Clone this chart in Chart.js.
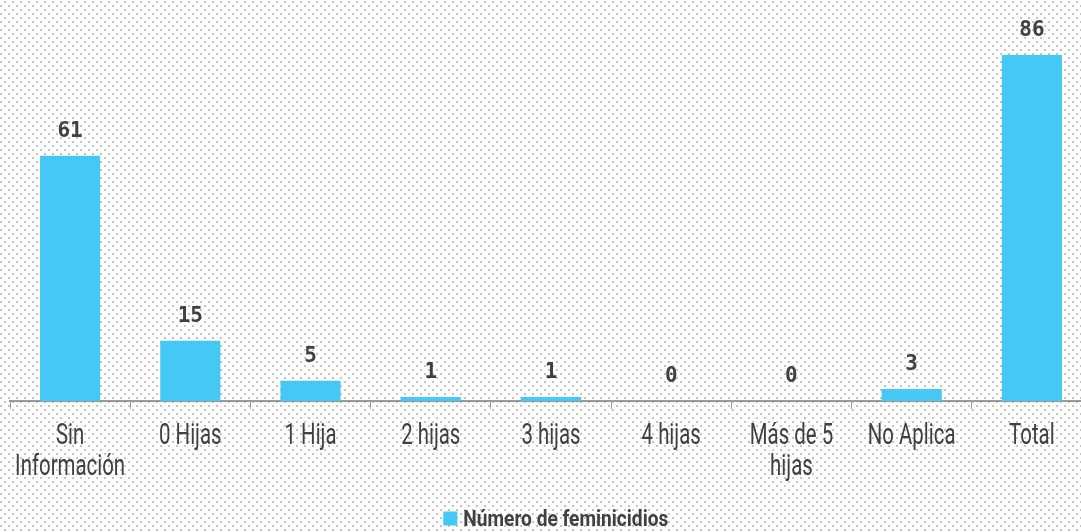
<!DOCTYPE html>
<html>
<head>
<meta charset="utf-8">
<script src="https://cdn.jsdelivr.net/npm/chart.js@4.4.1/dist/chart.umd.min.js"></script>
<style>
    html, body { margin: 0; padding: 0; overflow: hidden; background: #fff; }
    #wrap { width: 1114px; height: 532px; }
</style>
</head>
<body>
<div id="wrap"><canvas id="chart-hijas"></canvas></div>
<script>
const categorias = [
    ["Sin", "Información"],
    "0 Hijas",
    "1 Hija",
    "2 hijas",
    "3 hijas",
    "4 hijas",
    ["Más de 5", "hijas"],
    "No Aplica",
    "Total"
];
const feminicidios = [61, 15, 5, 1, 1, 0, 0, 3, 86];
const nombreSerie = "Número de feminicidios";

const colorBarra = "#44c8f5";
const colorTexto = "#404040";

// fuentes condensadas: no hay ninguna instalada, se estira en horizontal
const fuenteTicks = "30px Roboto, sans-serif";
const fuenteLeyenda = "bold 22px Roboto, sans-serif";
const medidor = document.createElement("canvas").getContext("2d");
medidor.font = fuenteTicks;
const escalaTicks = 110 / medidor.measureText("Información").width;
medidor.font = fuenteLeyenda;
const escalaLeyenda = 205 / medidor.measureText(nombreSerie).width;
medidor.font = "bold 20px 'Liberation Sans', sans-serif";
const tamLeyendaChart = 20 * 193 / medidor.measureText(nombreSerie).width;

// fondo punteado
const fondoPunteado = {
    id: "fondoPunteado",
    beforeDraw(chart) {
        const tile = document.createElement("canvas");
        tile.width = 8;
        tile.height = 8;
        const t = tile.getContext("2d");
        t.fillStyle = "#c4c4c4";
        t.fillRect(4, 1, 2, 2);
        t.fillRect(0, 5, 2, 2);
        const ctx = chart.ctx;
        ctx.save();
        ctx.fillStyle = "#ffffff";
        ctx.fillRect(0, 0, chart.width, chart.height);
        ctx.fillStyle = ctx.createPattern(tile, "repeat");
        ctx.fillRect(0, 0, chart.width, chart.height);
        ctx.restore();
    }
};

// valores encima de las barras
const valoresBarras = {
    id: "valoresBarras",
    afterDatasetsDraw(chart) {
        const ctx = chart.ctx;
        const meta = chart.getDatasetMeta(0);
        ctx.save();
        ctx.font = "bold 21px 'DejaVu Sans Mono', monospace";
        ctx.fillStyle = colorTexto;
        ctx.textAlign = "center";
        ctx.textBaseline = "alphabetic";
        meta.data.forEach(function (bar, i) {
            ctx.fillText(feminicidios[i], bar.x, bar.y - 19);
        });
        ctx.restore();
    }
};

// etiquetas del eje x y texto de la leyenda con letra estrecha
const textoEstrecho = {
    id: "textoEstrecho",
    afterDraw(chart) {
        const ctx = chart.ctx;
        const escalaX = chart.scales.x;
        ctx.save();
        ctx.fillStyle = colorTexto;
        ctx.textAlign = "center";
        ctx.textBaseline = "alphabetic";
        ctx.font = fuenteTicks;
        escalaX.ticks.forEach(function (tick, i) {
            const x = escalaX.getPixelForTick(i);
            const lineas = [].concat(categorias[i]);
            lineas.forEach(function (linea, k) {
                ctx.save();
                ctx.translate(x, escalaX.top + 43 + k * 31);
                ctx.scale(escalaTicks, 1);
                ctx.fillText(linea, 0, 0);
                ctx.restore();
            });
        });

        const caja = chart.legend.legendHitBoxes[0];
        ctx.font = fuenteLeyenda;
        ctx.textAlign = "left";
        ctx.save();
        ctx.translate(caja.left + 20, caja.top + caja.height / 2 + 8);
        ctx.scale(escalaLeyenda, 1);
        ctx.fillText(nombreSerie, 0, 0);
        ctx.restore();
        ctx.restore();
    }
};

const chartHijas = new Chart(document.getElementById("chart-hijas"), {
    type: "bar",
    data: {
        labels: categorias,
        datasets: [
            {
                label: nombreSerie,
                data: feminicidios,
                backgroundColor: colorBarra,
                categoryPercentage: 0.5,
                barPercentage: 1,
            },
        ],
    },
    options: {
        responsive: true,
        maintainAspectRatio: false,
        animation: false,
        layout: {
            padding: { top: 39, left: 10, right: 22, bottom: -5 },
        },
        plugins: {
            tooltip: { enabled: false },
            legend: {
                position: "bottom",
                labels: {
                    boxWidth: 14,
                    boxHeight: 14,
                    padding: 0,
                    color: "rgba(0,0,0,0)",
                    font: { family: "'Liberation Sans', sans-serif", size: tamLeyendaChart, weight: "bold" },
                },
            },
        },
        scales: {
            x: {
                afterFit(scale) {
                    scale.height = 109;
                },
                grid: {
                    drawOnChartArea: false,
                    drawTicks: true,
                    tickLength: 8,
                    color: "#9a9a9a",
                },
                border: { display: true, color: "#9a9a9a", width: 2 },
                ticks: {
                    color: "rgba(0,0,0,0)",
                    maxRotation: 0,
                    autoSkip: false,
                    padding: 6,
                    callback: function () {
                        return "";
                    },
                },
            },
            y: {
                display: false,
                min: 0,
                max: 90,
            },
        },
    },
    plugins: [fondoPunteado, valoresBarras, textoEstrecho],
});
</script>
</body>
</html>
